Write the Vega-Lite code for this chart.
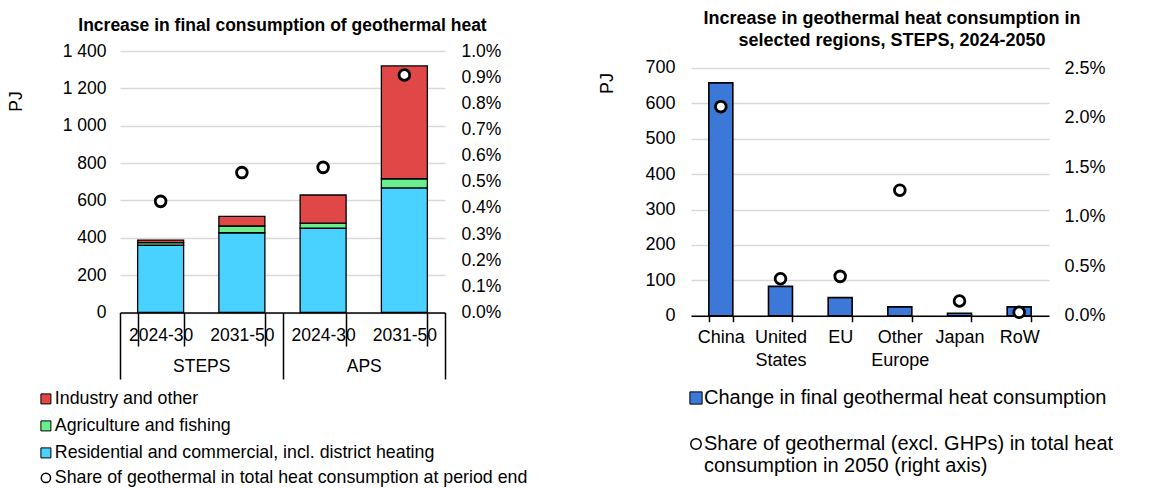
{
  "$schema": "https://vega.github.io/schema/vega-lite/v6.json",
  "background": "white",
  "padding": {"left": 7, "top": 9, "right": 5, "bottom": 5},
  "datasets": {
    "left": [
      {"key": "STEPS|2024-30", "scenario": "STEPS", "sector": "Residential and commercial, incl. district heating", "ord": 1, "pj": 360},
      {"key": "STEPS|2024-30", "scenario": "STEPS", "sector": "Agriculture and fishing", "ord": 2, "pj": 14},
      {"key": "STEPS|2024-30", "scenario": "STEPS", "sector": "Industry and other", "ord": 3, "pj": 14},
      {"key": "STEPS|2031-50", "scenario": "STEPS", "sector": "Residential and commercial, incl. district heating", "ord": 1, "pj": 427},
      {"key": "STEPS|2031-50", "scenario": "STEPS", "sector": "Agriculture and fishing", "ord": 2, "pj": 36},
      {"key": "STEPS|2031-50", "scenario": "STEPS", "sector": "Industry and other", "ord": 3, "pj": 52},
      {"key": "APS|2024-30", "scenario": "APS", "sector": "Residential and commercial, incl. district heating", "ord": 1, "pj": 451},
      {"key": "APS|2024-30", "scenario": "APS", "sector": "Agriculture and fishing", "ord": 2, "pj": 27},
      {"key": "APS|2024-30", "scenario": "APS", "sector": "Industry and other", "ord": 3, "pj": 151},
      {"key": "APS|2031-50", "scenario": "APS", "sector": "Residential and commercial, incl. district heating", "ord": 1, "pj": 667},
      {"key": "APS|2031-50", "scenario": "APS", "sector": "Agriculture and fishing", "ord": 2, "pj": 49},
      {"key": "APS|2031-50", "scenario": "APS", "sector": "Industry and other", "ord": 3, "pj": 604}
    ],
    "leftShare": [
      {"key": "STEPS|2024-30", "scenario": "STEPS", "share": 0.00425},
      {"key": "STEPS|2031-50", "scenario": "STEPS", "share": 0.00535},
      {"key": "APS|2024-30", "scenario": "APS", "share": 0.00555},
      {"key": "APS|2031-50", "scenario": "APS", "share": 0.00908}
    ],
    "right": [
      {"region": "China", "pj": 658, "share": 0.0211},
      {"region": "United States", "pj": 83, "share": 0.00373},
      {"region": "EU", "pj": 51, "share": 0.00397},
      {"region": "Other Europe", "pj": 25, "share": 0.01267},
      {"region": "Japan", "pj": 7, "share": 0.00148},
      {"region": "RoW", "pj": 25, "share": 0.00034}
    ]
  },
  "hconcat": [
    {
      "title": {"text": "Increase in final consumption of geothermal heat", "fontSize": 17.5, "fontWeight": "bold", "anchor": "middle", "offset": 8, "color": "#000"},
      "width": 325,
      "height": 261.5,
      "layer": [
        {
          "data": {"name": "left"},
          "mark": {"type": "bar", "stroke": "#000", "strokeWidth": 1.3},
          "encoding": {
            "x": {
              "field": "key", "type": "nominal",
              "sort": ["STEPS|2024-30", "STEPS|2031-50", "APS|2024-30", "APS|2031-50"],
              "scale": {"paddingInner": 0.434, "paddingOuter": 0.217},
              "axis": {"orient": "bottom", "title": null, "labelAngle": 0, "tickBand": "extent", "tickSize": 33.5, "tickWidth": 1.5, "domainWidth": 1.5, "labelPadding": -19.5, "labelExpr": "split(datum.label, '|')[1]"}
            },
            "y": {
              "field": "pj", "type": "quantitative", "stack": "zero",
              "scale": {"domain": [0, 1400]},
              "axis": {"values": [0, 200, 400, 600, 800, 1000, 1200, 1400], "labelExpr": "replace(format(datum.value, ','), ',', ' ')", "grid": true, "ticks": false, "domain": false, "labelPadding": 14, "title": "PJ", "titleY": 50, "titlePadding": 37}
            },
            "color": {
              "field": "sector", "type": "nominal",
              "scale": {"domain": ["Industry and other", "Agriculture and fishing", "Residential and commercial, incl. district heating"], "range": ["#E04848", "#6BEE8E", "#49D1FF"]},
              "legend": {"title": null, "orient": "none", "legendX": -83, "legendY": 339, "direction": "vertical", "symbolType": "square", "symbolSize": 100, "symbolStrokeColor": "#000", "symbolStrokeWidth": 1, "labelFontSize": 17.8, "rowPadding": 8, "labelLimit": 1000, "labelOffset": 0}
            },
            "order": {"field": "ord", "type": "quantitative"}
          }
        },
        {
          "data": {"name": "leftShare"},
          "mark": {"type": "point", "filled": true, "fill": "white", "stroke": "#000", "strokeWidth": 2.8, "size": 115, "opacity": 1},
          "encoding": {
            "x": {
              "field": "key", "type": "nominal",
              "sort": ["STEPS|2024-30", "STEPS|2031-50", "APS|2024-30", "APS|2031-50"],
              "scale": {"paddingInner": 0.434, "paddingOuter": 0.217},
              "axis": null
            },
            "y": {
              "field": "share", "type": "quantitative",
              "scale": {"domain": [0, 0.01]},
              "axis": {"orient": "right", "values": [0, 0.001, 0.002, 0.003, 0.004, 0.005, 0.006, 0.007, 0.008, 0.009, 0.01], "format": ".1%", "grid": false, "ticks": false, "domain": false, "labelPadding": 16, "title": null}
            },
            "shape": {
              "datum": "Share of geothermal in total heat consumption at period end",
              "scale": {"range": ["circle"]},
              "legend": {
                "title": null, "orient": "none", "legendX": -83, "legendY": 418, "symbolSize": 85, "labelFontSize": 17.8, "labelLimit": 1000, "labelOffset": 0,
                "encode": {"symbols": {"update": {"fill": {"value": "white"}, "stroke": {"value": "#000"}, "strokeWidth": {"value": 2.8}, "opacity": {"value": 1}}}}
              }
            }
          }
        },
        {
          "data": {"name": "leftShare"},
          "mark": {"type": "point", "opacity": 0},
          "encoding": {
            "x": {
              "field": "scenario", "type": "nominal", "sort": ["STEPS", "APS"],
              "scale": {"paddingInner": 0, "paddingOuter": 0},
              "axis": {"orient": "bottom", "title": null, "labelAngle": 0, "tickBand": "extent", "tickSize": 66.5, "tickWidth": 1.5, "domain": false, "labelPadding": -22}
            }
          }
        }
      ],
      "resolve": {"scale": {"x": "independent", "y": "independent"}, "axis": {"x": "independent", "y": "independent"}}
    },
    {
      "title": {"text": ["Increase in geothermal heat consumption in", "selected regions, STEPS, 2024-2050"], "fontSize": 18, "fontWeight": "bold", "anchor": "middle", "offset": 1, "dx": 22, "lineHeight": 22.5, "color": "#000"},
      "width": 358,
      "height": 264.7,
      "data": {"name": "right"},
      "layer": [
        {
          "mark": {"type": "bar", "stroke": "#000", "strokeWidth": 1.6, "fill": "#3C78D8"},
          "encoding": {
            "x": {
              "field": "region", "type": "nominal",
              "sort": ["China", "United States", "EU", "Other Europe", "Japan", "RoW"],
              "scale": {"paddingInner": 0.598, "paddingOuter": 0.299},
              "axis": {"title": null, "labelAngle": 0, "tickBand": "extent", "tickSize": 6, "tickWidth": 1.5, "domainWidth": 1.5, "labelPadding": 7, "labelFontSize": 18, "labelLineHeight": 23, "labelExpr": "split(datum.label, ' ')"}
            },
            "y": {
              "field": "pj", "type": "quantitative",
              "scale": {"domain": [0, 748], "nice": false},
              "axis": {"values": [0, 100, 200, 300, 400, 500, 600, 700], "grid": true, "ticks": false, "domain": false, "labelPadding": 16, "labelFontSize": 18, "title": "PJ", "titleFontSize": 18, "titleY": 32, "titlePadding": 28}
            },
            "color": {
              "datum": "Change in final geothermal heat consumption",
              "scale": {"range": ["#3C78D8"]},
              "legend": {"title": null, "orient": "none", "legendX": -5, "legendY": 337, "symbolType": "square", "symbolSize": 150, "symbolStrokeColor": "#000", "symbolStrokeWidth": 1, "labelFontSize": 20, "labelLimit": 1000, "labelOffset": -2}
            }
          }
        },
        {
          "mark": {"type": "point", "filled": true, "fill": "white", "stroke": "#000", "strokeWidth": 2.8, "size": 115, "opacity": 1},
          "encoding": {
            "x": {
              "field": "region", "type": "nominal",
              "sort": ["China", "United States", "EU", "Other Europe", "Japan", "RoW"]
            },
            "y": {
              "field": "share", "type": "quantitative",
              "scale": {"domain": [0, 0.026716], "nice": false},
              "axis": {"orient": "right", "values": [0, 0.005, 0.01, 0.015, 0.02, 0.025], "format": ".1%", "grid": false, "ticks": false, "domain": false, "labelPadding": 15, "labelFontSize": 18, "title": null}
            },
            "shape": {
              "datum": "Share of geothermal (excl. GHPs) in total heat|consumption in 2050 (right axis)",
              "scale": {"range": ["circle"]},
              "legend": {
                "title": null, "orient": "none", "legendX": -5, "legendY": 383, "symbolSize": 110, "labelFontSize": 20, "labelLimit": 1000, "labelOffset": -2, "labelExpr": "split(datum.label, '|')",
                "encode": {
                  "symbols": {"update": {"fill": {"value": "white"}, "stroke": {"value": "#000"}, "strokeWidth": {"value": 2.8}, "opacity": {"value": 1}}},
                  "labels": {"update": {"lineHeight": {"value": 20}}}
                }
              }
            }
          }
        }
      ],
      "resolve": {"scale": {"y": "independent"}}
    }
  ],
  "spacing": 70,
  "resolve": {"scale": {"color": "independent", "shape": "independent"}, "legend": {"color": "independent", "shape": "independent"}},
  "config": {
    "font": "Liberation Sans",
    "view": {"stroke": null},
    "axis": {"labelFont": "Liberation Sans", "labelFontSize": 17.5, "labelColor": "#000", "titleFont": "Liberation Sans", "titleFontSize": 17.5, "titleFontWeight": "normal", "titleColor": "#000", "domainColor": "#000", "tickColor": "#000", "gridColor": "#d9d9d9", "gridWidth": 1.5},
    "legend": {"labelFont": "Liberation Sans", "labelColor": "#000"},
    "title": {"font": "Liberation Sans"}
  }
}
